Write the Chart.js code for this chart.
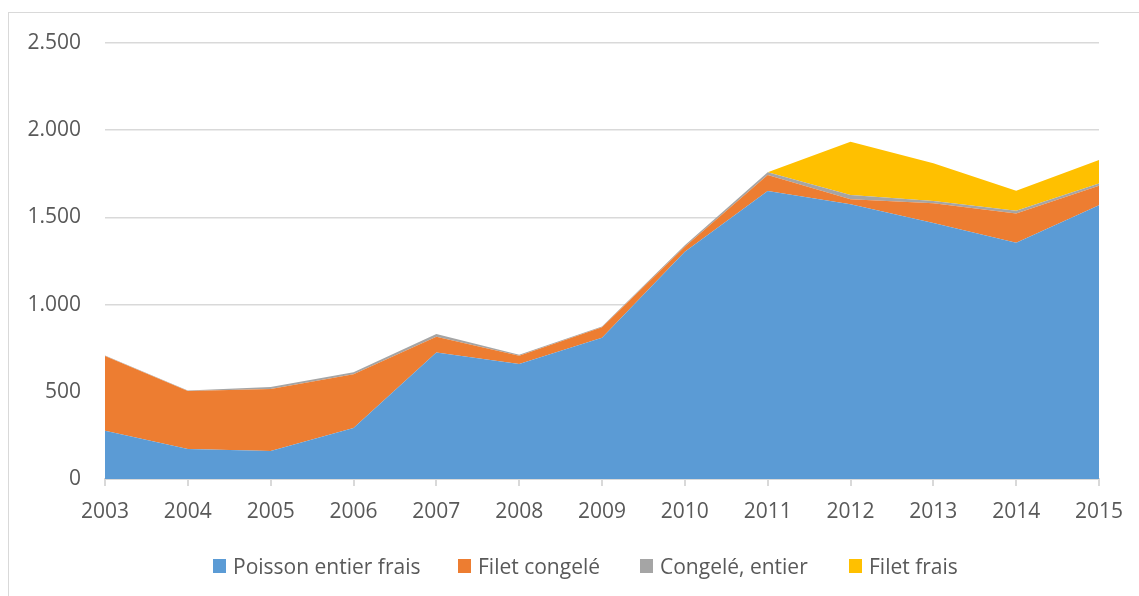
<!DOCTYPE html>
<html>
<head>
<meta charset="utf-8">
<script src="https://cdn.jsdelivr.net/npm/chart.js@4"></script>
<style>
  html, body { margin: 0; padding: 0; background: #fff; overflow: hidden; }
  #frame { position: absolute; left: 8px; top: 12px; width: 1200px; height: 700px; border: 1px solid #d9d9d9; }
  #wrap { position: absolute; left: 0; top: 0; width: 1139px; height: 596px; }
  #legend { position: absolute; top: 552px; left: 0; width: 1139px; height: 28px; font-family: "Open Sans", sans-serif; font-size: 21px; color: #595959; }
  #legend .item { position: absolute; top: 0; display: flex; align-items: center; height: 28px; white-space: nowrap; }
  #legend .box { width: 13px; height: 14px; margin-right: 7px; }
</style>
</head>
<body>
<div id="frame"></div>
<div id="wrap"><canvas id="popChart" width="1139" height="596"></canvas></div>
<div id="legend"></div>
<script>
(function(){
    // données
    var years = ['2003','2004','2005','2006','2007','2008','2009','2010','2011','2012','2013','2014','2015'];
    var poissonEntierFrais = [277, 172, 160, 292, 726, 659, 810, 1303, 1651, 1575, 1468, 1355, 1569];
    var filetCongele = [428, 333, 356, 308, 90, 48, 60, 29, 92, 29, 113, 168, 113];
    var congeleEntier = [3, 3, 11, 12, 15, 5, 4, 8, 16, 24, 13, 15, 13];
    var filetFrais = [0, 0, 0, 0, 0, 0, 0, 0, 0, 306, 216, 115, 134];

    var names = ['Poisson entier frais', 'Filet congelé', 'Congelé, entier', 'Filet frais'];
    var colors = ['#5b9bd5', '#ed7d31', '#a5a5a5', '#ffc000'];
    var series = [poissonEntierFrais, filetCongele, congeleEntier, filetFrais];
    var legendX = [213, 458, 640, 849];

    var datasets = series.map((data, i) => ({
        label: names[i],
        data,
        backgroundColor: colors[i],
        borderColor: 'transparent',
        borderWidth: 0,
        pointRadius: 0,
        fill: i === 0 ? 'origin' : '-1',
        tension: 0
    }));

    var tickFont = { family: '"Open Sans", sans-serif', size: 21 };

    new Chart(document.getElementById('popChart'), {
        type: 'line',
        data: { labels: years, datasets },
        options: {
            responsive: false,
            animation: false,
            layout: { padding: { top: 43, right: 40, bottom: 72, left: 0 } },
            plugins: { legend: { display: false }, tooltip: { enabled: false } },
            scales: {
                x: {
                    offset: false,
                    grid: { drawOnChartArea: false, drawTicks: true, tickLength: 7, color: '#d9d9d9', lineWidth: 2 },
                    border: { color: '#d9d9d9', width: 2 },
                    ticks: { color: '#595959', font: tickFont, padding: 13, maxRotation: 0, autoSkip: false },
                    afterFit: s => { s.height = 45; }
                },
                y: {
                    stacked: true,
                    min: 0,
                    max: 2500,
                    grid: { color: '#d9d9d9', lineWidth: 1.5, drawTicks: false },
                    border: { display: false },
                    ticks: {
                        stepSize: 500,
                        color: '#595959',
                        font: tickFont,
                        padding: 24,
                        callback: v => String(v).replace(/\B(?=(\d{3})+(?!\d))/g, '.')
                    },
                    afterFit: s => { s.width = 105; }
                }
            }
        }
    });

    var legend = document.getElementById('legend');
    names.forEach((n, i) => {
        var item = document.createElement('div');
        item.className = 'item';
        item.style.left = legendX[i] + 'px';
        var box = document.createElement('span');
        box.className = 'box';
        box.style.background = colors[i];
        var txt = document.createElement('span');
        txt.textContent = n;
        item.appendChild(box);
        item.appendChild(txt);
        legend.appendChild(item);
    });
})()
</script>
</body>
</html>
